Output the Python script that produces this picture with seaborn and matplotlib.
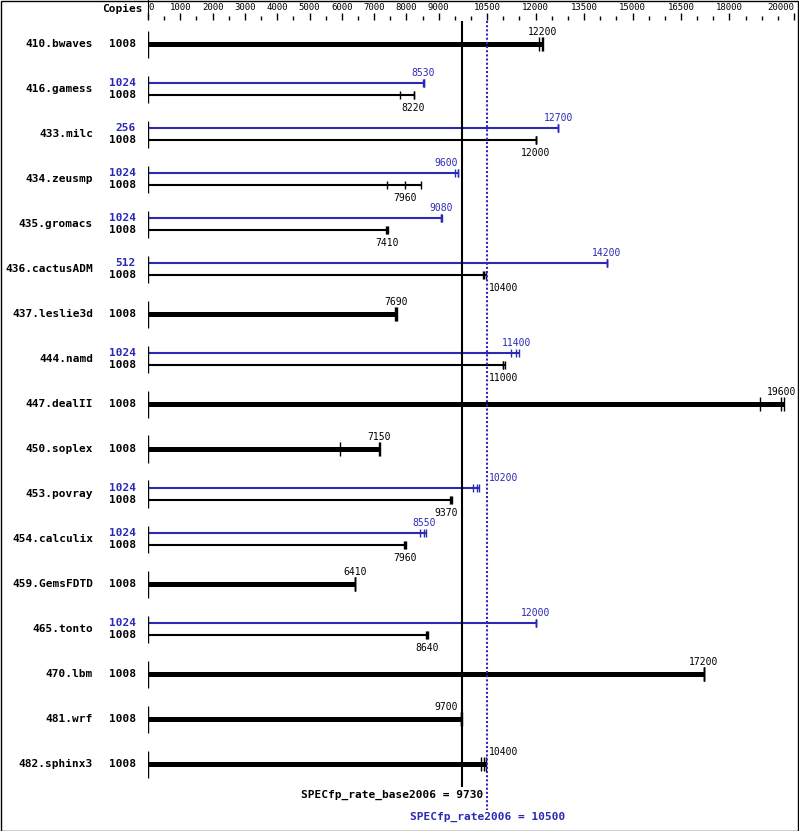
import numpy as np
import pandas as pd
import matplotlib
matplotlib.use("Agg")
import matplotlib.pyplot as plt
import seaborn as sns
from matplotlib.patches import Rectangle
from matplotlib.lines import Line2D

# ---------------- data ----------------
benchmarks = ["410.bwaves", "416.gamess", "433.milc", "434.zeusmp", "435.gromacs",
              "436.cactusADM", "437.leslie3d", "444.namd", "447.dealII", "450.soplex",
              "453.povray", "454.calculix", "459.GemsFDTD", "465.tonto", "470.lbm",
              "481.wrf", "482.sphinx3"]
base_copies = [1008] * 17
peak_copies = [None, 1024, 256, 1024, 1024, 512, None, 1024, None, None,
               1024, 1024, None, 1024, None, None, None]
base_ratio = [12200, 8220, 12000, 7960, 7410, 10400, 7690, 11000, 19600, 7150,
              9370, 7960, 6410, 8640, 17200, 9700, 10400]
peak_ratio = [None, 8530, 12700, 9600, 9080, 14200, None, 11400, None, None,
              10200, 8550, None, 12000, None, None, None]
base_runs = [[12100, 12200, 12230], [7800, 8220, 8230], [12000, 12000, 12000],
             [7400, 7960, 8450], [7380, 7410, 7420], [10380, 10400, 10450],
             [7650, 7690, 7720], [10980, 11000, 11050], [18950, 19600, 19700],
             [5940, 7150, 7180], [9340, 9370, 9410], [7930, 7960, 7990],
             [6410, 6410, 6410], [8600, 8640, 8660], [17200, 17200, 17200],
             [9680, 9700, 9730], [10300, 10400, 10460]]
peak_runs = [None, [8500, 8530, 8560], [12700, 12700, 12700], [9500, 9600, 9600],
             [9060, 9080, 9090], [14200, 14200, 14200], None, [11250, 11400, 11500],
             None, None, [10050, 10200, 10250], [8420, 8550, 8610], None,
             [12000, 12000, 12000], None, None, None]
spec_base = 9730
spec_peak = 10500
major_ticks = [0, 1000, 2000, 3000, 4000, 5000, 6000, 7000, 8000, 9000,
               10500, 12000, 13500, 15000, 16500, 18000, 20000]
major_labels = ["0", "1000", "2000", "3000", "4000", "5000", "6000", "7000", "8000",
                "9000", "10500", "12000", "13500", "15000", "16500", "18000", "20000"]

BLUE = "#2a2ab4"
BLACK = "black"

# ---------------- figure ----------------
sns.set_style("white")
plt.rcParams['font.family'] = ['DejaVu Sans Mono', 'DejaVu Sans']

W, H = 799, 831
fig = plt.figure(figsize=(W / 100, H / 100), dpi=100)
x0px, x1px = 148, 794
top_px = 20
row0_px, row_step = 44, 45
ax = fig.add_axes([x0px / W, 0, (x1px - x0px) / W, (H - top_px) / H])


def py(p):
    return (p - row0_px) / row_step


# Build long table of bars
rows = []
for i, b in enumerate(benchmarks):
    has_peak = peak_ratio[i] is not None
    if has_peak:
        rows.append(dict(bench=b, config="peak", y=i - 0.133, ratio=peak_ratio[i],
                         runs=peak_runs[i], copies=peak_copies[i], thick=False))
        rows.append(dict(bench=b, config="base", y=i + 0.133, ratio=base_ratio[i],
                         runs=base_runs[i], copies=base_copies[i], thick=False))
    else:
        rows.append(dict(bench=b, config="base", y=i, ratio=base_ratio[i],
                         runs=base_runs[i], copies=base_copies[i], thick=True))
bars = pd.DataFrame(rows)
bars["end"] = bars["runs"].apply(max)
bars["color"] = np.where(bars["config"] == "peak", BLUE, BLACK)

runs_df = bars.explode("runs").rename(columns={"runs": "value"})
runs_df["value"] = runs_df["value"].astype(float)

# bars
for _, r in bars.iterrows():
    ax.hlines(r["y"], 0, r["end"], color=r["color"],
              lw=3.6 if r["thick"] else 1.5, zorder=3)

# run ticks via seaborn
for thick, size in [(True, 90), (False, 30)]:
    sub = runs_df[runs_df["thick"] == thick]
    for cfg, col in [("base", BLACK), ("peak", BLUE)]:
        s2 = sub[sub["config"] == cfg]
        if len(s2):
            sns.scatterplot(data=s2, x="value", y="y", marker="|", s=size,
                            color=col, linewidth=1.0, ax=ax, legend=False, zorder=4)

# group separators at x = 0
for i in range(len(benchmarks)):
    ax.vlines(0, i - 0.3, i + 0.3, color=BLACK, lw=1, zorder=5)

# labels at left
for i, b in enumerate(benchmarks):
    fig.text(93 / W, 1 - (row0_px + row_step * i) / H, b, ha="right", va="center",
             fontsize=8, fontweight="bold", color=BLACK)
for _, r in bars.iterrows():
    ypix = row0_px + row_step * r["y"]
    fig.text(136 / W, 1 - ypix / H, str(r["copies"]), ha="right", va="center",
             fontsize=8, fontweight="bold", color=r["color"])

# value labels
refs = [spec_base, spec_peak]
for _, r in bars.iterrows():
    txt = str(r["ratio"])
    w = len(txt) * 90 + 20
    c = r["ratio"]
    overlap = any(c - w < ref < c + w for ref in refs)
    if r["config"] == "peak" or r["thick"]:
        yl = r["y"] - (0.26 if r["thick"] else 0.22)
    else:
        yl = r["y"] + 0.29
    if not overlap:
        ax.text(c, yl, txt, ha="center", va="center", fontsize=7, color=r["color"])
    else:
        left_c = spec_base - 130 - w
        right_c = spec_peak + 60 + w
        if abs(c - left_c) <= abs(c - right_c):
            ax.text(spec_base - 130, yl, txt, ha="right", va="center", fontsize=7,
                    color=r["color"])
        else:
            ax.text(spec_peak + 60, yl, txt, ha="left", va="center", fontsize=7,
                    color=r["color"])

# reference lines
ax.vlines(spec_base, py(21), py(787), color=BLACK, lw=1.5, zorder=6)
ax.vlines(spec_peak, py(21), py(810), color=BLUE, lw=1.5, linestyles=(0, (1, 1)), zorder=6)

ax.text(10380, py(795), f"SPECfp_rate_base2006 = {spec_base}", ha="right", va="center",
        fontsize=8, fontweight="bold", color=BLACK)
ax.text(spec_peak, py(817), f"SPECfp_rate2006 = {spec_peak}", ha="center", va="center",
        fontsize=8, fontweight="bold", color=BLUE)

# axis setup
ax.set_xlim(0, 20000)
ax.set_ylim(py(H), py(top_px))
for sp in ax.spines.values():
    sp.set_visible(False)
ax.set_xlabel("")
ax.set_ylabel("")
ax.set_yticks([])
ax.xaxis.tick_top()
ax.set_xticks(major_ticks)
ax.set_xticklabels(major_labels)
minor = [v for v in range(0, 20001, 500) if v not in major_ticks]
ax.set_xticks(minor, minor=True)
ax.tick_params(axis="x", which="major", direction="out", length=5, width=1,
               labelsize=6.5, pad=1, colors=BLACK)
ax.tick_params(axis="x", which="minor", direction="out", length=3, width=1, colors=BLACK)
ax.xaxis.set_tick_params(which="both", top=True, bottom=False)
tl = ax.get_xticklabels()
tl[0].set_horizontalalignment("left")
tl[-1].set_horizontalalignment("right")

fig.text(143 / W, 1 - 9 / H, "Copies", ha="right", va="center", fontsize=8,
         fontweight="bold", color=BLACK)
fig.add_artist(Line2D([147.5 / W, 147.5 / W], [1, 1 - 19 / H], color=BLACK, lw=0.8,
                      transform=fig.transFigure))
fig.add_artist(Rectangle((0.5 / W, 0.5 / H), 1 - 1.5 / W, 1 - 1.5 / H, fill=False,
                         ec=BLACK, lw=1, transform=fig.transFigure))

fig.savefig("out.png", dpi=100)
